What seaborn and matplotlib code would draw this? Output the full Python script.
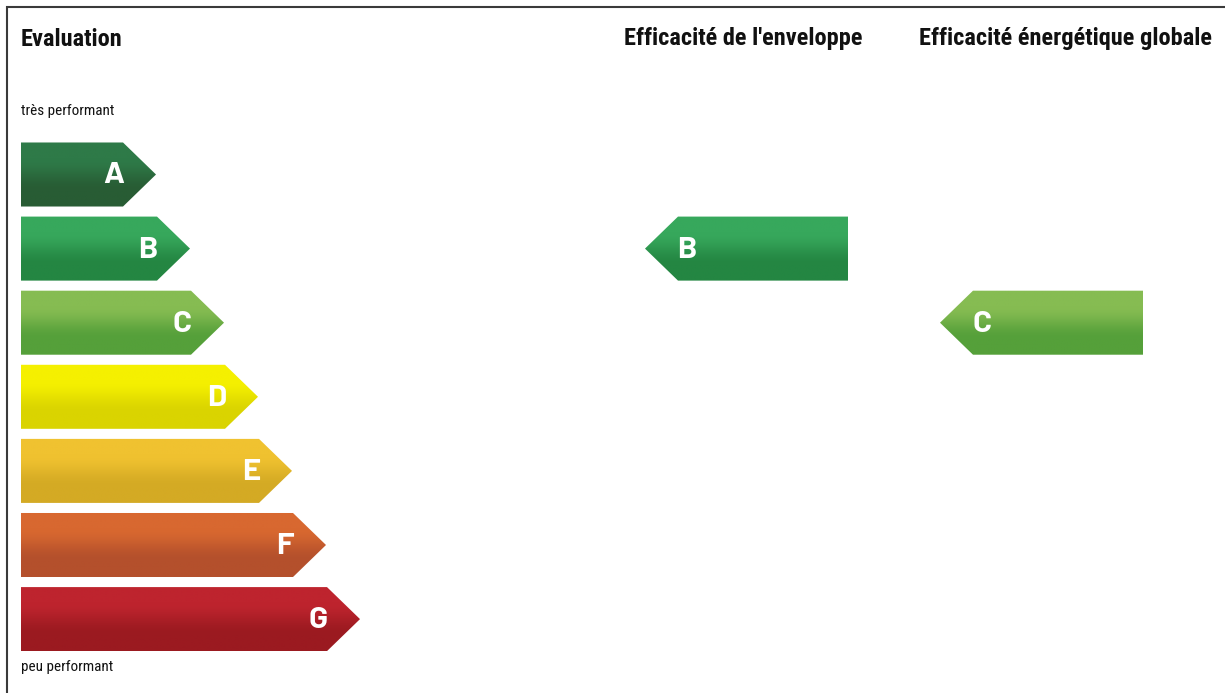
import numpy as np
import pandas as pd
import seaborn as sns
import matplotlib.pyplot as plt
from matplotlib.patches import Polygon, Rectangle
from matplotlib.colors import to_rgb

# Energy label data
grades = ["A", "B", "C", "D", "E", "F", "G"]
scale_steps = [1, 2, 3, 4, 5, 6, 7]
top_colors = ["#2e7a48", "#37a85c", "#86bc52", "#f5f000", "#f0c230", "#d86830", "#be242e"]
bottom_colors = ["#285c34", "#248642", "#55a03a", "#dad400", "#d4aa24", "#b4502c", "#9b1a20"]
envelope_grade = "B"
global_grade = "C"
headers = ["Evaluation", "Efficacité de l'enveloppe", "Efficacité énergétique globale"]
scale_ends = ["très performant", "peu performant"]

sns.set_theme(style="white")
plt.rcParams["font.family"] = ["Liberation Sans Narrow", "Roboto Condensed",
                               "Fira Sans Condensed", "DejaVu Sans"]
letter_font = ["Barlow", "DejaVu Sans"]

W, H = 1225, 693
fig = plt.figure(figsize=(W / 100, H / 100), dpi=100)
ax = fig.add_axes([0, 0, 1, 1])

df = pd.DataFrame({"grade": grades, "length": [68 + 34 * s for s in scale_steps]})
bar_h = 0.864
sns.barplot(data=df, x="length", y="grade", orient="h", width=bar_h,
            color="white", linewidth=0, ax=ax)

tip = 33


def gradient(top, bottom, n=120):
    t = np.linspace(0, 1, n)
    s = np.clip((t - 0.25) / 0.5, 0, 1)
    s = s * s * (3 - 2 * s)
    a, b = np.array(to_rgb(top)), np.array(to_rgb(bottom))
    return (a[None, :] * (1 - s[:, None]) + b[None, :] * s[:, None])[:, None, :]


def draw_arrow(x0, x1, yc, top, bottom, letter, pointing="right"):
    y0, y1 = yc - bar_h / 2, yc + bar_h / 2
    if pointing == "right":
        pts = [(x0, y0), (x1, y0), (x1 + tip, yc), (x1, y1), (x0, y1)]
        left, right = x0, x1 + tip
    else:
        pts = [(x0, y0), (x1, y0), (x1, y1), (x0, y1), (x0 - tip, yc)]
        left, right = x0 - tip, x1
    poly = Polygon(pts, closed=True, facecolor="none", edgecolor="none")
    ax.add_patch(poly)
    im = ax.imshow(gradient(top, bottom), extent=(left, right, y1, y0),
                   origin="upper", aspect="auto", interpolation="bilinear", zorder=3)
    im.set_clip_path(poly)
    if pointing == "right":
        ax.text(x1 + 1, yc + 0.02, letter, ha="right", va="center", color="white",
                fontsize=22.5, fontweight="bold", family=letter_font, zorder=4)
    else:
        ax.text(x0 - 1, yc + 0.02, letter, ha="left", va="center", color="white",
                fontsize=22.5, fontweight="bold", family=letter_font, zorder=4)


bars = sorted(ax.patches, key=lambda p: p.get_y())
for i, p in enumerate(bars):
    yc = p.get_y() + p.get_height() / 2
    draw_arrow(p.get_x(), p.get_x() + p.get_width(), yc,
               top_colors[i], bottom_colors[i], grades[i])

# result arrows (pointing left)
for grade, x_tip in [(envelope_grade, 624), (global_grade, 919)]:
    i = grades.index(grade)
    draw_arrow(x_tip + tip, x_tip + tip + 170, i, top_colors[i], bottom_colors[i],
               grade, pointing="left")

ax.set_xlim(-21, W - 21)
ax.set_ylim((H - 174.5) / 74.1, -174.5 / 74.1)
ax.axis("off")

# headings and scale labels
for txt, x in zip(headers, [21, 624, 919]):
    fig.text(x / W, 1 - 45.5 / H, txt, ha="left", va="baseline", fontsize=17.6,
             fontweight="bold", color="#111111")
fig.text(21 / W, 1 - 115.5 / H, scale_ends[0], ha="left", va="baseline", fontsize=10.9, color="#111111")
fig.text(21 / W, 1 - 670.5 / H, scale_ends[1], ha="left", va="baseline", fontsize=10.9, color="#111111")

# frame
fig.add_artist(Rectangle((7 / W, -0.1), 1.2, 1.1 - 7.5 / H, transform=fig.transFigure,
                         fill=False, edgecolor="#3a3a3a", linewidth=1.5))

fig.savefig("out.png", dpi=100)
